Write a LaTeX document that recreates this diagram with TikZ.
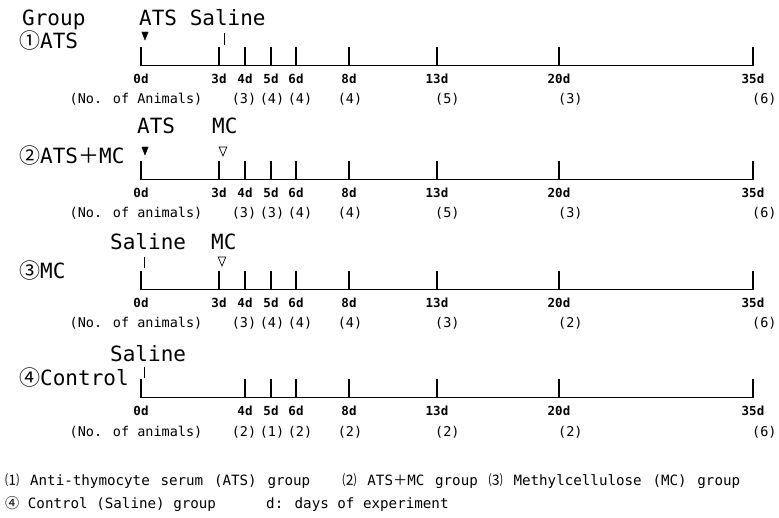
\documentclass[tikz,border=0pt]{standalone}
\usepackage{fontspec}
\usetikzlibrary{calc}
\setmainfont{DejaVu Sans Mono}
\newfontfamily\cjk{Noto Sans CJK JP}
\begin{document}
\begin{tikzpicture}[x=1pt,y=-1pt,
  heading/.style={font=\fontsize{21}{21}\selectfont, inner sep=0pt, anchor=base west},
  grouplbl/.style={font=\fontsize{21}{21}\selectfont, inner sep=0pt, anchor=base west},
  daylbl/.style={font=\bfseries\fontsize{12.5}{12.5}\selectfont, inner sep=0pt, anchor=base},
  cntlbl/.style={font=\fontsize{13.5}{13.5}\selectfont, inner sep=0pt, anchor=base},
  cntw/.style={font=\fontsize{13.5}{13.5}\selectfont, inner sep=0pt, anchor=base west},
  foot/.style={font=\fontsize{14.2}{14.2}\selectfont, inner sep=0pt, anchor=base west},
  axisline/.style={line width=1pt},
  tickline/.style={line width=1.4pt},
  salinemark/.style={line width=0.7pt},
  atsmark/.style={fill=black, draw=black, line width=0.4pt},
  mcmark/.style={draw=black, line width=0.7pt, fill=white},
]
\useasboundingbox (0,0) rectangle (779,518);

% ---------- headings ----------
\node[heading] (hgroup) at (22,26) {Group};
\node[heading] (h1) at (139,26) {ATS Saline};
\node[heading] (h2a) at (137,134) {ATS};
\node[heading] (h2b) at (212,134) {MC};
\node[heading] (h3a) at (110,250) {Saline};
\node[heading] (h3b) at (211,250) {MC};
\node[heading] (h4a) at (110,362) {Saline};

% ---------- group labels ----------
\node[grouplbl] (g1) at (19,49) {{\cjk ①}ATS};
\node[grouplbl] (g2) at (19,164) {{\cjk ②}ATS{\cjk ＋}MC};
\node[grouplbl] (g3) at (19,279) {{\cjk ③}MC};
\node[grouplbl] (g4) at (19,386) {{\cjk ④}Control};

% ---------- timelines ----------
\foreach \t/\ya in {1/66, 2/180, 3/290, 4/398} {
  \coordinate (a\t s) at (141,\ya);
  \coordinate (a\t e) at (753,\ya);
  \draw[axisline] (a\t s) -- (a\t e);
}
\foreach \t/\ya/\days in {1/66/{0/141,3/219,4/245,5/271,6/296,8/349,13/437,20/559,35/753},
                          2/180/{0/141,3/219,4/245,5/271,6/296,8/349,13/437,20/559,35/753},
                          3/290/{0/141,3/219,4/245,5/271,6/296,8/349,13/437,20/559,35/753},
                          4/398/{0/141,4/245,5/271,6/296,8/349,13/437,20/559,35/753}} {
  \foreach \d/\xx in \days {
    \coordinate (t\t d\d) at (\xx,\ya-19);
    \coordinate (b\t d\d) at (\xx,\ya);
    \draw[tickline] (t\t d\d) -- (b\t d\d);
    \node[daylbl] (l\t d\d) at (\xx,\ya+17.5) {\d d};
  }
}

% ---------- markers ----------
\coordinate (m1) at (145,32);
\draw[atsmark] ($(m1)+(-3.2,0)$) -- ($(m1)+(3.2,0)$) -- ($(m1)+(0,8)$) -- cycle;
\coordinate (m2) at (145,147);
\draw[atsmark] ($(m2)+(-3.2,0)$) -- ($(m2)+(3.2,0)$) -- ($(m2)+(0,8)$) -- cycle;
\coordinate (m3) at (223,147);
\draw[mcmark] ($(m3)+(-3.8,0)$) -- ($(m3)+(3.8,0)$) -- ($(m3)+(0,9)$) -- cycle;
\coordinate (m4) at (222,257);
\draw[mcmark] ($(m4)+(-3.8,0)$) -- ($(m4)+(3.8,0)$) -- ($(m4)+(0,9)$) -- cycle;
\coordinate (s1a) at (224,33); \coordinate (s1b) at (224,45);
\draw[salinemark] (s1a) -- (s1b);
\coordinate (s3a) at (144,257); \coordinate (s3b) at (144,268);
\draw[salinemark] (s3a) -- (s3b);
\coordinate (s4a) at (144,367); \coordinate (s4b) at (144,378);
\draw[salinemark] (s4a) -- (s4b);

% ---------- counts ----------
\foreach \t/\yc/\lab/\ca/\cb/\cc/\cd/\ce/\cf/\cg in
   {1/104/Animals/3/4/4/4/5/3/6,
    2/218/animals/3/3/4/4/5/3/6,
    3/328/animals/3/4/4/4/3/2/6,
    4/436/animals/2/1/2/2/2/2/6} {
  \node[cntlbl] (n\t) at (136,\yc) {(No. of \lab)};
  \node[cntlbl] (c\t a) at (244,\yc) {(\ca)};
  \node[cntlbl] (c\t b) at (272,\yc) {(\cb)};
  \node[cntlbl] (c\t c) at (300,\yc) {(\cc)};
  \node[cntlbl] (c\t d) at (350,\yc) {(\cd)};
  \node[cntw] (c\t e) at (435,\yc) {(\ce)};
  \node[cntw] (c\t f) at (558,\yc) {(\cf)};
  \node[cntw] (c\t g) at (752,\yc) {(\cg)};
}

% ---------- footer ----------
\node[foot] (f1) at (5,485) {\makebox[735pt][s]{{\cjk ⑴} Anti-thymocyte serum (ATS) group\ \ \ {\cjk ⑵} ATS{\cjk ＋}MC group {\cjk ⑶} Methylcellulose (MC) group}};
\node[foot] (f2) at (5,508) {{\cjk ④} Control (Saline) group};
\node[foot] (f3) at (266,508) {d: days of experiment};
\end{tikzpicture}
\end{document}
